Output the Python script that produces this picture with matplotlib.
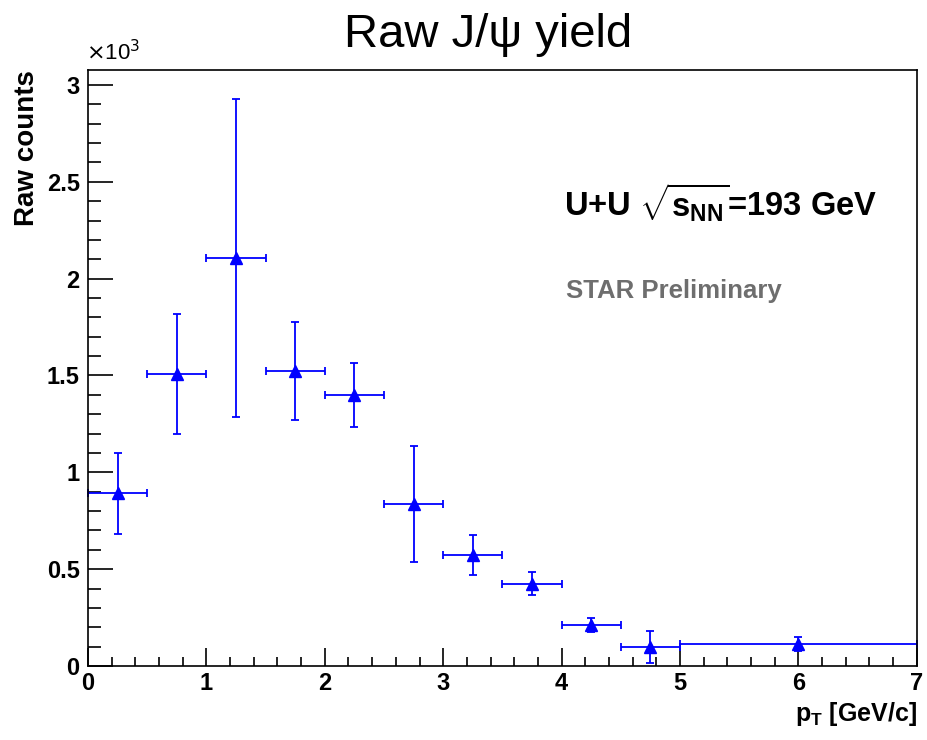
import numpy as np
import matplotlib
matplotlib.use("Agg")
import matplotlib.pyplot as plt
from matplotlib.ticker import MultipleLocator

plt.rcParams['font.family'] = ['Liberation Sans', 'DejaVu Sans']
plt.rcParams['mathtext.fontset'] = 'custom'
plt.rcParams['mathtext.rm'] = 'Liberation Sans:bold'
plt.rcParams['mathtext.bf'] = 'Liberation Sans:bold'
plt.rcParams['mathtext.it'] = 'Liberation Sans:bold'

# pT bins (GeV/c) and raw J/psi counts (x10^3)
pt_center = [0.25, 0.75, 1.25, 1.75, 2.25, 2.75, 3.25, 3.75, 4.25, 4.75, 6.0]
pt_halfwidth = [0.25, 0.25, 0.25, 0.25, 0.25, 0.25, 0.25, 0.25, 0.25, 0.25, 1.0]
counts = [0.892, 1.509, 2.105, 1.523, 1.399, 0.838, 0.571, 0.425, 0.213, 0.098, 0.112]
count_err = [0.21, 0.31, 0.82, 0.255, 0.165, 0.30, 0.103, 0.06, 0.036, 0.081, 0.036]

fig = plt.figure(figsize=(9.28, 7.4), dpi=100)
ax = fig.add_axes([0.0948, 0.1, 0.8932, 0.8054])

ax.errorbar(pt_center, counts, xerr=pt_halfwidth, yerr=count_err, fmt='^',
            color='#0000ff', markersize=8.5, elinewidth=1.3, capsize=3,
            capthick=1.3, clip_on=False)

ax.set_xlim(0, 7)
ax.set_ylim(0, 3.077)
ax.xaxis.set_major_locator(MultipleLocator(1))
ax.xaxis.set_minor_locator(MultipleLocator(0.2))
ax.yaxis.set_minor_locator(MultipleLocator(0.1))
ax.set_yticks([0, 0.5, 1, 1.5, 2, 2.5, 3])
ax.set_yticklabels(['0', '0.5', '1', '1.5', '2', '2.5', '3'])

ax.tick_params(axis='x', which='major', direction='in', length=13, width=1.2,
               labelsize=17, pad=4)
ax.tick_params(axis='x', which='minor', direction='in', length=6.5, width=1.2)
ax.tick_params(axis='y', which='major', direction='in', length=18, width=1.2,
               labelsize=17, pad=6)
ax.tick_params(axis='y', which='minor', direction='in', length=9.5, width=1.2)
for lab in ax.get_xticklabels() + ax.get_yticklabels():
    lab.set_fontweight('bold')
for sp in ax.spines.values():
    sp.set_linewidth(1.2)

fig.text(0.526, 0.953, 'Raw J/ψ yield', ha='center', va='center', fontsize=34)
ax.text(-0.002, 1.008, r'$\times$10$^{3}$', transform=ax.transAxes, fontsize=16,
        ha='left', va='bottom', math_fontfamily='dejavusans')
ax.set_xlabel(r'$\mathbf{p_{T}}$ [GeV/c]', fontsize=18, fontweight='bold',
              ha='right', x=1.0, labelpad=4)
fig.text(27 / 928, 1 - 70 / 740, 'Raw counts', rotation=90, ha='center',
         va='top', fontsize=20, fontweight='bold')

ax.text(0.574, 0.7775, r'U+U $\sqrt{s_{NN}}$=193 GeV', transform=ax.transAxes,
        fontsize=23.5, fontweight='bold', ha='left', va='center')
ax.text(0.577, 0.63, 'STAR Preliminary', transform=ax.transAxes, fontsize=18.5,
        fontweight='bold', color='#6e6e6e', ha='left', va='center')

fig.savefig('out.png', dpi=100)
